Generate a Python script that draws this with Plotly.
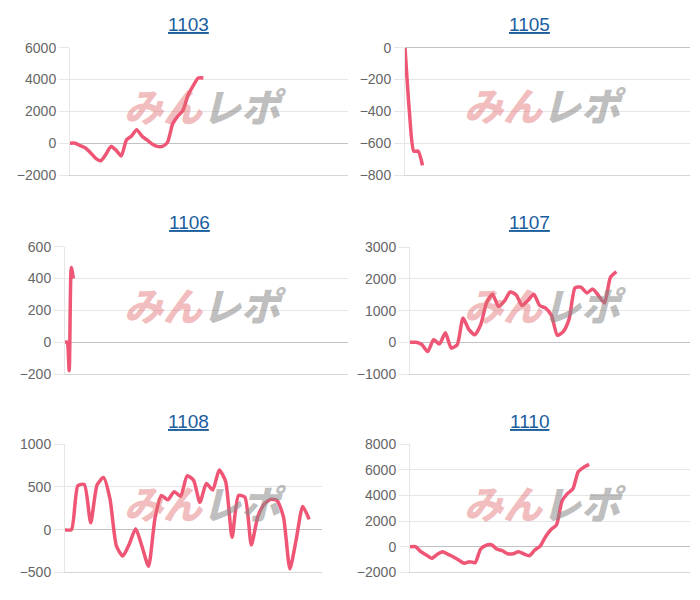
import plotly.graph_objects as go

# cumulative values per code
codes = ["1103", "1105", "1106", "1107", "1108", "1110"]

s1103 = [0, 0, -150, -300, -600, -950, -1100, -700, -200, -450, -800, 200, 450, 850,
         450, 200, -50, -200, -200, 50, 1200, 1700, 2050, 3000, 3600, 4100, 4100]
s1105 = [0, -400, -650, -650, -740]
s1106 = [0, 0, -180, 470, 400]
s1107 = [0, 0, -70, -290, 80, -50, 300, -180, -80, 770, 400, 240, 560, 1260, 1520, 1130,
         1300, 1590, 1500, 1160, 1320, 1520, 1160, 1080, 850, 220, 340, 740, 1720, 1740,
         1560, 1680, 1470, 1240, 2050, 2230]
s1108 = [0, 0, 515, 530, 80, 525, 610, 360, -190, -310, -170, 10, -200, -430, 130, 400,
         350, 445, 390, 630, 580, 320, 540, 465, 700, 565, -90, 400, 380, -180, 150, 300,
         355, 340, 150, -460, -110, 270, 120]
s1110 = [0, 0, -390, -650, -910, -600, -390, -600, -800, -1050, -1300, -1170, -1250, -200,
         100, 150, -180, -310, -550, -550, -390, -570, -700, -260, 50, 800, 1350, 1700,
         3550, 4150, 4500, 5850, 6200, 6430]

series = [s1103, s1105, s1106, s1107, s1108, s1110]

# y axis: (min, max, step)
y_axes = [(-2000, 6000, 2000), (-800, 0, 200), (-200, 600, 200),
          (-1000, 3000, 1000), (-500, 1000, 500), (-2000, 8000, 2000)]
# number of x slots shown on each chart
x_spans = [54.2, 65, 135, 47.5, 40, 51.6]

# the page body keeps its default 8px margin, so the figure is 16px smaller
PAD = 8
W, H = 700 - 2 * PAD, 600 - 2 * PAD

def fx(px):
    return (px - PAD) / W

def fy(py):
    return 1 - (py - PAD) / H

# plot boxes in page pixels: left, right, top, bottom
boxes = [(70, 348, 47.7, 175), (405, 690, 47.7, 175),
         (65, 348, 246.7, 374), (410, 690, 247.3, 374),
         (65, 322, 444.3, 572.3), (410, 690, 444.3, 572.3)]
title_pos = [(188, 25), (529, 25), (189, 223), (529, 223), (188, 422), (529, 422)]
mark_pos = [(205, 105), (545, 104), (205, 304), (545, 304), (205, 502), (545, 502)]

LINE = "#ef5675"
GRID = "#e6e6e6"

fig = go.Figure()
layout = {}
annotations = []

for i, (code, vals) in enumerate(zip(codes, series)):
    n = "" if i == 0 else str(i + 1)
    left, right, top, bottom = boxes[i]
    lo, hi, step = y_axes[i]

    fig.add_trace(go.Scatter(
        x=list(range(len(vals))), y=vals,
        xaxis="x" + n, yaxis="y" + n,
        mode="lines",
        line=dict(color=LINE, width=3.5, shape="spline", smoothing=0.6),
        hoverinfo="skip",
    ))

    layout["xaxis" + n] = dict(
        domain=[fx(left), fx(right)], range=[0, x_spans[i]], anchor="y" + n,
        showticklabels=False, showgrid=False, zeroline=False, automargin=False,
        showline=True, linecolor="#d6d6d6", linewidth=1, fixedrange=True,
    )
    layout["yaxis" + n] = dict(
        domain=[fy(bottom), fy(top)], range=[lo, hi], anchor="x" + n,
        tickmode="linear", tick0=lo, dtick=step, automargin=False,
        showgrid=True, gridcolor=GRID, gridwidth=1,
        zeroline=True, zerolinecolor="#c2c2c2", zerolinewidth=1,
        showline=True, linecolor=GRID, linewidth=1,
        ticks="outside", ticklen=10, tickcolor=GRID,
        tickfont=dict(family="Arial, Liberation Sans", size=14, color="#666666"),
        fixedrange=True,
    )

    tx, ty = title_pos[i]
    annotations.append(dict(
        text="<u>" + code + "</u>", xref="paper", yref="paper",
        x=fx(tx), y=fy(ty), xanchor="center", yanchor="middle",
        showarrow=False,
        font=dict(family="Arial, Liberation Sans", size=19, color="#1a5e9e"),
    ))

    mx, my = mark_pos[i]
    annotations.append(dict(
        text=("<span style='color:rgba(225,105,110,0.45)'>みん</span>"
              "<span style='color:rgba(135,135,135,0.55)'>レポ</span>"),
        xref="paper", yref="paper",
        x=fx(mx), y=fy(my), xanchor="center", yanchor="middle", showarrow=False,
        font=dict(family="Noto Sans CJK JP", size=39, weight=900, style="italic"),
    ))

fig.update_layout(
    width=W, height=H,
    margin=dict(l=0, r=0, t=0, b=0),
    paper_bgcolor="white", plot_bgcolor="white",
    showlegend=False,
    annotations=annotations,
    **layout,
)

fig.write_html("out.html")
